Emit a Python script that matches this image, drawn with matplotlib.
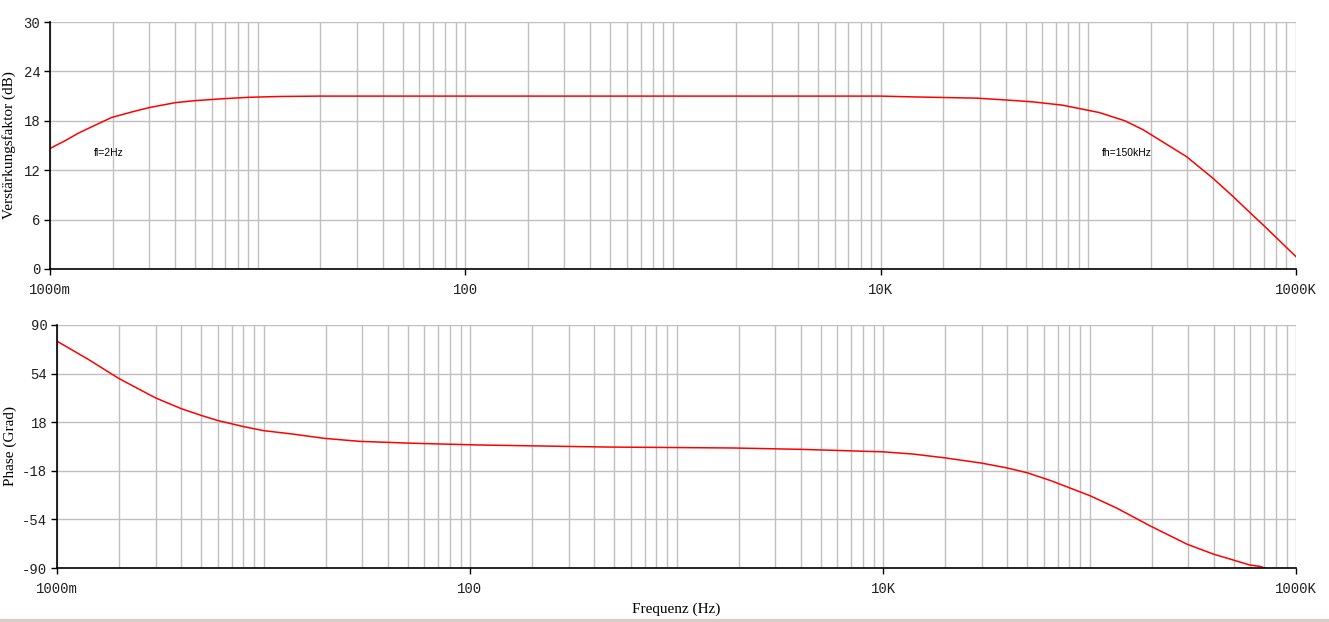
import numpy as np
import matplotlib
matplotlib.use('Agg')
import matplotlib.pyplot as plt
from matplotlib.ticker import FixedLocator, FixedFormatter, LogLocator, NullFormatter
from matplotlib.patches import Rectangle

plt.rcParams['axes.unicode_minus'] = False

# Amplitude response (dB)
freq_gain = [1, 1.18, 1.37, 1.65, 1.98, 2.5, 3, 4, 5, 7, 9, 12.5, 20, 1000,
             10e3, 14.5e3, 29e3, 39e3, 54e3, 75e3, 113e3, 150e3, 184e3, 297e3,
             399e3, 498e3, 600e3, 695e3, 1e6]
gain_db = [14.64, 15.57, 16.5, 17.47, 18.4, 19.1, 19.6, 20.2, 20.45, 20.7, 20.85, 20.95, 21.0, 21.0,
           21.0, 20.9, 20.75, 20.55, 20.3, 19.9, 19.0, 18.0, 16.9, 13.65,
           11.0, 8.8, 6.85, 5.35, 1.5]

# Phase response (degrees)
freq_phase = [1, 1.41, 2, 3, 4, 5, 6, 8, 10, 13.7, 19.8, 29.3, 52.8, 112,
              459, 1879, 3960, 6000, 8300, 9.9e3, 14e3, 19.9e3, 30e3, 39.7e3,
              50e3, 65e3, 100e3, 135e3, 196e3, 296e3, 398e3, 497e3, 598e3,
              670e3, 720e3]
phase_deg = [78, 64.75, 50.25, 36, 28, 23, 19.25, 14.75, 11.75, 9.3, 6.0, 3.8, 2.4, 1.1,
             -0.4, -1.1, -2.1, -2.9, -3.6, -3.9, -5.6, -8.4, -12.3, -15.8,
             -19.5, -25.3, -36.3, -45.5, -58.7, -72.3, -79.7, -84.1, -87.8,
             -88.8, -90.5]

x_ticks = [1, 100, 1e4, 1e6]
x_tick_labels = ['1000m', '100', '10K', '1000K']
gain_ticks = [0, 6, 12, 18, 24, 30]
phase_ticks = [-90, -54, -18, 18, 54, 90]

TICK_FONT = 'Liberation Mono'
LABEL_FONT = 'Liberation Serif'
GRID_COLOR = '#c0c0c0'

fig = plt.figure(figsize=(13.29, 6.22), dpi=100)
ax1 = fig.add_axes([50 / 1329, 1 - 269 / 622, 1246 / 1329, 247 / 622])
ax2 = fig.add_axes([57 / 1329, 1 - 568 / 622, 1239 / 1329, 243 / 622])


def style_axes(ax, yticks, ylim):
    ax.set_xscale('log')
    ax.set_xlim(1, 1e6)
    ax.set_ylim(*ylim)
    ax.xaxis.set_major_locator(FixedLocator(x_ticks))
    ax.xaxis.set_major_formatter(FixedFormatter(x_tick_labels))
    ax.xaxis.set_minor_locator(LogLocator(base=10, subs=np.arange(1, 10), numticks=20))
    ax.xaxis.set_minor_formatter(NullFormatter())
    ax.set_yticks(yticks)
    ax.grid(True, which='both', axis='x', color=GRID_COLOR, linewidth=1)
    ax.grid(True, which='major', axis='y', color=GRID_COLOR, linewidth=1)
    ax.set_axisbelow(True)
    for side in ['top', 'right']:
        ax.spines[side].set_visible(False)
    for side in ['left', 'bottom']:
        ax.spines[side].set_color('black')
        ax.spines[side].set_linewidth(1.2)
    ax.tick_params(axis='both', which='major', length=4, width=1, color='black',
                   labelsize=10, labelcolor='#202020')
    ax.tick_params(axis='x', which='major', pad=6)
    ax.tick_params(axis='y', which='major', pad=3)
    ax.tick_params(axis='x', which='minor', length=0)
    for lbl in ax.get_xticklabels() + ax.get_yticklabels():
        lbl.set_fontfamily(TICK_FONT)


style_axes(ax1, gain_ticks, (0, 30))
style_axes(ax2, phase_ticks, (-90, 90))

ax1.plot(freq_gain, gain_db, color='red', linewidth=1.1)
ax2.plot(freq_phase, phase_deg, color='red', linewidth=1.1)

ax1.text(1.63, 14.1, 'fl=2Hz', fontsize=7.5, family='Liberation Sans', va='center', ha='left')
ax1.text(116e3, 14.1, 'fh=150kHz', fontsize=7.5, family='Liberation Sans', va='center', ha='left')

ax1.set_ylabel('Verstärkungsfaktor (dB)', family=LABEL_FONT, fontsize=11)
ax1.yaxis.set_label_coords(-0.027, 0.5)
ax2.set_ylabel('Phase (Grad)', family=LABEL_FONT, fontsize=11)
ax2.yaxis.set_label_coords(-0.032, 0.5)
ax2.set_xlabel('Frequenz (Hz)', family=LABEL_FONT, fontsize=11)
ax2.xaxis.set_label_coords(0.5, -0.142)

# window border strip at the very bottom
fig.patches.append(Rectangle((0, 0), 1, 3 / 622, transform=fig.transFigure,
                             color='#d4d0c8', zorder=0))

fig.savefig('out.png', dpi=100)
